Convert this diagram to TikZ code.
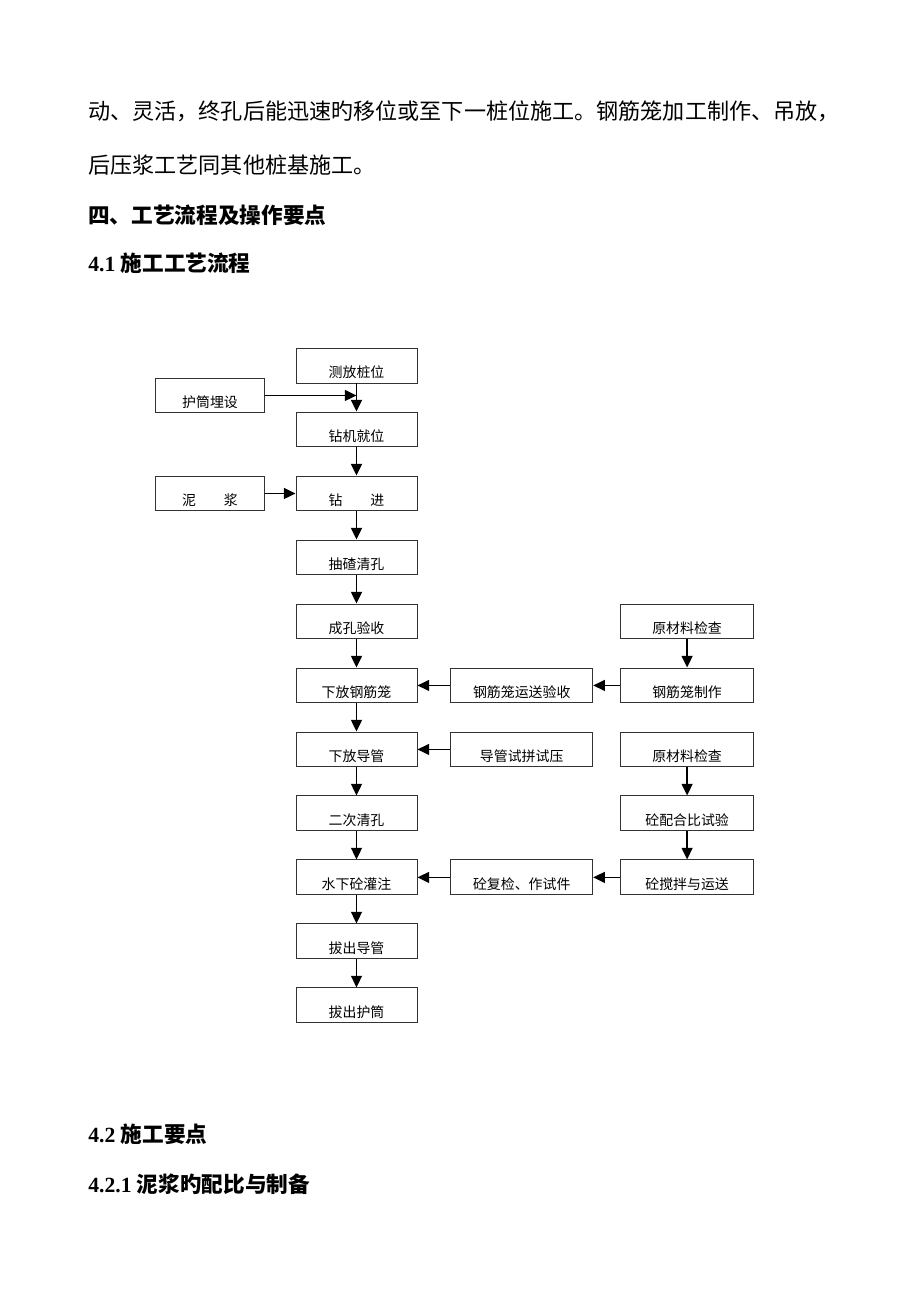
\documentclass[tikz,border=0pt]{standalone}
\usepackage{fontspec}
\setmainfont{Liberation Serif}
\newfontfamily\cjkfont{Noto Sans CJK SC}
\usetikzlibrary{positioning,arrows.meta}
\newcommand\boxfont{\cjkfont\fontsize{9pt}{11pt}\selectfont}
\tikzset{box/.style={draw=black!80,line width=0.6pt,inner sep=0pt,text height=19pt,text depth=3.6pt,font=\boxfont},
	 mbox/.style={box,minimum width=78.3pt},
	 lbox/.style={box,minimum width=70pt},
	 cbox/.style={box,minimum width=91.9pt},
	 rbox/.style={box,minimum width=86.3pt},
	 arr/.style={-{Triangle[length=7.5pt,width=7pt]},line width=1.1pt},
	 ptext/.style={anchor=west,inner sep=0pt,font=\cjkfont\fontsize{14.3pt}{16pt}\selectfont},
	 htext/.style={anchor=west,inner sep=0pt,font=\bfseries\fontsize{14pt}{16pt}\selectfont},
	 node distance = 18.2pt
	 }
\begin{document}
\begin{tikzpicture}[x=0.647pt,y=-0.647pt] % pile construction flow
	\useasboundingbox (0,0) rectangle (920,1302);
	\node[ptext] (p1) at (88,111) {动、灵活，终孔后能迅速旳移位或至下一桩位施工。钢筋笼加工制作、吊放，};
	\node[ptext] (p2) at (88,165) {后压浆工艺同其他桩基施工。};
	\node[htext] (h1) at (88,215) {\cjkfont 四、工艺流程及操作要点};
	\node[htext] (h2) at (88,263) {4.1 {\cjkfont 施工工艺流程}};
	% main column
	\node[mbox] (m1) at (356.5,365.5) {测放桩位};
	\node[mbox] (m2) [below=of m1] {钻机就位};
	\node[mbox] (m3) [below=of m2] {钻\hspace{2em}进};
	\node[mbox] (m4) [below=of m3] {抽碴清孔};
	\node[mbox] (m5) [below=of m4] {成孔验收};
	\node[mbox] (m6) [below=of m5] {下放钢筋笼};
	\node[mbox] (m7) [below=of m6] {下放导管};
	\node[mbox] (m8) [below=of m7] {二次清孔};
	\node[mbox] (m9) [below=of m8] {水下砼灌注};
	\node[mbox] (m10) [below=of m9] {拔出导管};
	\node[mbox] (m11) [below=of m10] {拔出护筒};
	% left
	\node[lbox] (hutong) [left=20pt of m1, yshift=-19.4pt] {护筒埋设};
	\node[lbox] (nijiang) [left=20pt of m3] {泥\hspace{2em}浆};
	% middle
	\node[cbox] (gjys) [right=21.2pt of m6] {钢筋笼运送验收};
	\node[cbox] (dgsy) [right=21.2pt of m7] {导管试拼试压};
	\node[cbox] (tfj) [right=21.2pt of m9] {砼复检、作试件};
	% right
	\node[rbox] (gjzz) [right=17.3pt of gjys] {钢筋笼制作};
	\node[rbox] (ycl1) [above=of gjzz] {原材料检查};
	\node[rbox] (ycl2) [right=17.3pt of dgsy] {原材料检查};
	\node[rbox] (phb) [below=of ycl2] {砼配合比试验};
	\node[rbox] (jb) [below=of phb] {砼搅拌与运送};
	\foreach \i [count=\j from 2] in {1,...,10}
	  \draw[arr] (m\i) -- (m\j);
	\draw[arr] (hutong.east) -- (hutong.east -| m1.south);
	\draw[arr] (nijiang) -- (m3);
	\draw[arr] (ycl1) -- (gjzz);
	\draw[arr] (gjzz) -- (gjys);
	\draw[arr] (gjys) -- (m6);
	\draw[arr] (dgsy) -- (m7);
	\draw[arr] (ycl2) -- (phb);
	\draw[arr] (phb) -- (jb);
	\draw[arr] (jb) -- (tfj);
	\draw[arr] (tfj) -- (m9);
	\node[htext] (h3) at (88,1134) {4.2 {\cjkfont 施工要点}};
	\node[htext] (h4) at (88,1184) {4.2.1 {\cjkfont 泥浆旳配比与制备}};
\end{tikzpicture}
\end{document}
